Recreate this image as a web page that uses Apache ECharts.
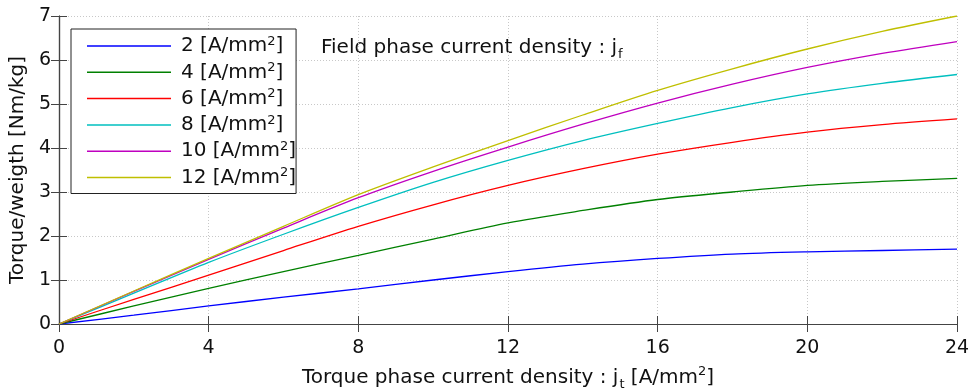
<!DOCTYPE html>
<html>
<head>
<meta charset="utf-8">
<script src="https://cdn.jsdelivr.net/npm/echarts@6/dist/echarts.min.js"></script>
<style>
  html, body { margin: 0; padding: 0; background: #fff; }
  #chart { width: 972px; height: 391px; }
</style>
</head>
<body>
<div id="chart"></div>
<script>
// torque phase current density jt [A/mm2]
var jt = [0, 2, 4, 6, 8, 10, 12, 14, 16, 18, 20, 22, 24]
// field phase current density jf, one curve each
var fieldLabels = ['2', '4', '6', '8', '10', '12']
var jf2 = [0, 0.20, 0.41, 0.61, 0.80, 1.00, 1.19, 1.36, 1.49, 1.59, 1.64, 1.67, 1.70]
var jf4 = [0, 0.41, 0.81, 1.19, 1.56, 1.93, 2.30, 2.58, 2.83, 3.00, 3.15, 3.24, 3.31]
var jf6 = [0, 0.56, 1.11, 1.67, 2.22, 2.71, 3.15, 3.53, 3.86, 4.13, 4.36, 4.53, 4.66]
var jf8 = [0, 0.70, 1.40, 2.04, 2.65, 3.22, 3.72, 4.17, 4.56, 4.92, 5.23, 5.47, 5.67]
var jf10 = [0, 0.74, 1.47, 2.18, 2.87, 3.47, 4.02, 4.54, 5.02, 5.45, 5.83, 6.15, 6.42]
var jf12 = [0, 0.75, 1.49, 2.22, 2.94, 3.57, 4.17, 4.75, 5.31, 5.80, 6.25, 6.65, 7.00]
var colors = ['#0000ff', '#008000', '#ff0000', '#00bfbf', '#bf00bf', '#bfbf00']

var allData = [jf2, jf4, jf6, jf8, jf10, jf12]
var font = 'DejaVu Sans'
var axisColor = '#444'
var txt = '#111'

var series = allData.map(function (vals, i) {
    return {
        name: fieldLabels[i],
        type: 'line',
        smooth: 0.3,
        symbol: 'none',
        data: jt.map(function (x, k) { return [x, vals[k]] }),
        lineStyle: { width: 1.3, color: colors[i] },
        itemStyle: { color: colors[i] }
    }
})

var myChart = echarts.init(document.getElementById('chart'))
var option = {
    animation: false,
    textStyle: { fontFamily: font },
    grid: { left: 59, right: 15, top: 16, bottom: 67, outerBoundsMode: 'none', containLabel: false },
    legend: {
        orient: 'vertical',
        left: 71,
        top: 29,
        padding: [6, 0, 5, 16],
        borderColor: '#222',
        borderWidth: 1,
        backgroundColor: '#fff',
        icon: 'rect',
        itemWidth: 84,
        itemHeight: 1.5,
        itemGap: 4.3,
        data: fieldLabels,
        formatter: function (name) {
            return '{f|' + name + ' [A/mm}{s|2}{a|]}'
        },
        textStyle: {
            fontFamily: font,
            fontSize: 20,
            color: txt,
            lineHeight: 22,
            rich: {
                f: { fontSize: 20, fontFamily: font, color: txt, lineHeight: 22, padding: [0, 0, 0, 5] },
                a: { fontSize: 20, fontFamily: font, color: txt, lineHeight: 22 },
                s: { fontSize: 13, fontFamily: font, color: txt, verticalAlign: 'top', lineHeight: 22, padding: [0, 0, 6, 0] }
            }
        }
    },
    xAxis: [
        {
            type: 'value', min: 0, max: 24, interval: 4,
            name: '{a|Torque phase current density : j}{b|t}{a| [A/mm}{s|2}{a|]}',
            nameLocation: 'middle',
            nameGap: 41,
            nameTextStyle: {
                rich: {
                    a: { fontSize: 20, fontFamily: font, color: txt, lineHeight: 26 },
                    b: { fontSize: 13, fontFamily: font, color: txt, lineHeight: 26, verticalAlign: 'bottom', padding: [9, 0, 0, 1] },
                    s: { fontSize: 13, fontFamily: font, color: txt, lineHeight: 26, verticalAlign: 'top', padding: [0, 0, 8, 0] }
                }
            },
            axisLine: { show: true, lineStyle: { color: axisColor, width: 1.2 } },
            axisTick: { show: true, inside: true, length: 8, lineStyle: { color: axisColor } },
            axisLabel: { fontSize: 19, color: txt, margin: 15, fontFamily: font },
            splitLine: { show: true, lineStyle: { color: '#c8c8c8', type: [1, 2], width: 1 } }
        },
        {
            type: 'value', min: 0, max: 24, interval: 4, position: 'top',
            axisLine: { show: true, lineStyle: { color: axisColor, width: 1.2 } },
            axisTick: { show: true, inside: true, length: 8, lineStyle: { color: axisColor } },
            axisLabel: { show: false },
            splitLine: { show: false }
        }
    ],
    yAxis: [
        {
            type: 'value', min: 0, max: 7, interval: 1,
            name: 'Torque/weigth [Nm/kg]',
            nameLocation: 'middle',
            nameGap: 30,
            nameTextStyle: { fontSize: 20, color: txt, fontFamily: font },
            axisLine: { show: true, lineStyle: { color: axisColor, width: 1.2 } },
            axisTick: { show: true, inside: true, length: 8, lineStyle: { color: axisColor } },
            axisLabel: { fontSize: 19, color: txt, margin: 8, fontFamily: font },
            splitLine: { show: true, lineStyle: { color: '#c8c8c8', type: [1, 2], width: 1 } }
        },
        {
            type: 'value', min: 0, max: 7, interval: 1, position: 'right',
            axisLine: { show: true, lineStyle: { color: axisColor, width: 1.2 } },
            axisTick: { show: true, inside: true, length: 8, lineStyle: { color: axisColor } },
            axisLabel: { show: false },
            splitLine: { show: false }
        }
    ],
    graphic: [
        {
            type: 'text',
            left: 321,
            top: 38,
            style: {
                text: '{a|Field phase current density : j}{b|f}',
                rich: {
                    a: { fontSize: 20, fontFamily: font, fill: txt, lineHeight: 26 },
                    b: { fontSize: 13, fontFamily: font, fill: txt, lineHeight: 26, verticalAlign: 'bottom', padding: [9, 0, 0, 1] }
                }
            }
        }
    ],
    series: series
}

option && myChart.setOption(option)
window.addEventListener('resize', () => {
    myChart.resize()
})
</script>
</body>
</html>
